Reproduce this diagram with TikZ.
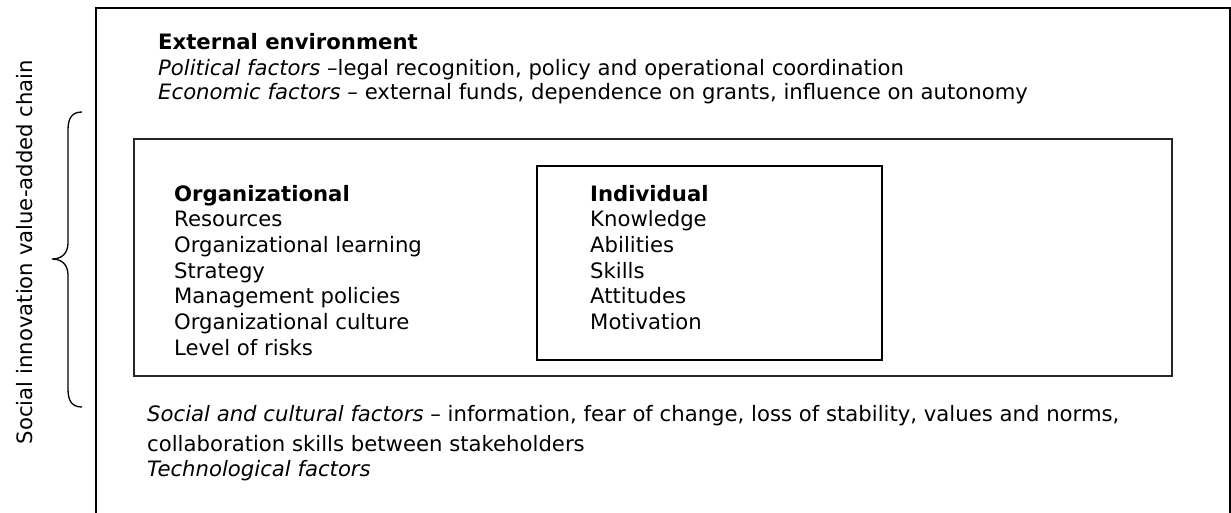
\documentclass[tikz,border=0pt]{standalone}
\usepackage{fontspec}
\setmainfont{DejaVu Sans}
\begin{document}
\begin{tikzpicture}[x=1pt,y=-1pt,
  txt/.style={anchor=base west, inner sep=0pt, font=\fontsize{21.2}{25.7}\selectfont},
  hd/.style={txt, font=\fontsize{21.2}{25.7}\selectfont\bfseries},
  frame/.style={line width=1.6pt, draw=black},
  innerframe/.style={line width=1.8pt, draw=black!85}]
\useasboundingbox (0,0) rectangle (1231,512);
% outer frame (open at the bottom of the picture)
\draw[frame] (96,530) -- (96,8) -- (1230,8) -- (1230,530);
% inner boxes
\draw[innerframe] (134,139) rectangle (1172,376);
\draw[frame, line width=2pt] (537,166) rectangle (882,360);
% external environment
\node[hd]  (ext) at (158,49.5) {External environment};
\node[txt] (pol) at (158,75) {\textit{Political factors} –legal recognition, policy and operational coordination};
\node[txt] (eco) at (158,99.5) {\textit{Economic factors} – external funds, dependence on grants, influence on autonomy};
% organizational
\node[hd]  (org0) at (174,201) {Organizational};
\node[txt] (org1) at (174,226.7) {Resources};
\node[txt] (org2) at (174,252.4) {Organizational learning};
\node[txt] (org3) at (174,278.1) {Strategy};
\node[txt] (org4) at (174,303.8) {Management policies};
\node[txt] (org5) at (174,329.5) {Organizational culture};
\node[txt] (org6) at (174,355.2) {Level of risks};
% individual
\node[hd]  (ind0) at (590,201) {Individual};
\node[txt] (ind1) at (590,226.7) {Knowledge};
\node[txt] (ind2) at (590,252.4) {Abilities};
\node[txt] (ind3) at (590,278.1) {Skills};
\node[txt] (ind4) at (590,303.8) {Attitudes};
\node[txt] (ind5) at (590,329.5) {Motivation};
% social / technological
\node[txt] (soc) at (147,421) {\textit{Social and cultural factors} – information, fear of change, loss of stability, values and norms,};
\node[txt] (col) at (147,451) {collaboration skills between stakeholders};
\node[txt] (tec) at (147,476) {\textit{Technological factors}};
% brace and side label
\draw[line width=1.3pt] (82,112) .. controls (72,112) and (68,118) .. (68,130) -- (68,243)
  .. controls (68,253) and (62,259) .. (52,259)
  .. controls (62,259) and (68,265) .. (68,275) -- (68,389)
  .. controls (68,401) and (72,407) .. (82,407);
\node[anchor=base, inner sep=0pt, rotate=90, font=\fontsize{21.2}{25.7}\selectfont] (chain) at (32,252) {Social innovation value-added chain};
\end{tikzpicture}
\end{document}
